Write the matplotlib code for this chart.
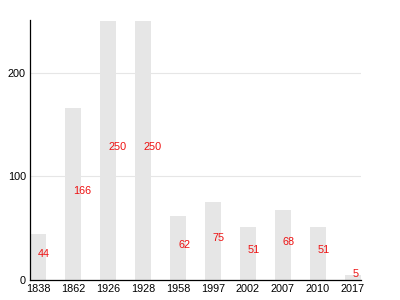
import matplotlib
matplotlib.use('Agg')
import matplotlib.pyplot as plt

plt.rcParams['font.family'] = ['Liberation Sans', 'DejaVu Sans']

# Data
years = ['1838', '1862', '1926', '1928', '1958', '1997', '2002', '2007', '2010', '2017']
values = [44, 166, 250, 250, 62, 75, 51, 68, 51, 5]

fig = plt.figure(figsize=(4, 3), dpi=100)
ax = fig.add_axes([0.075, 0.0667, 0.8275, 0.8667])

x = list(range(len(years)))
ax.bar(x, values, width=0.46, color='#e6e6e6', zorder=2)

# Value labels in red, halfway up each bar
for xi, v in zip(x, values):
    ax.text(xi, v / 2 + 3, str(v), color='#ee1111', fontsize=7.8,
            ha='left', va='center', zorder=3)

ax.set_xlim(-0.23, 9.23)
ax.set_ylim(0, 251)
ax.set_yticks([0, 100, 200])
ax.set_xticks(x)
ax.set_xticklabels(years)
ax.tick_params(axis='both', length=0, labelsize=7.8, pad=3)
ax.yaxis.grid(True, color='#e6e6e6', linewidth=0.8, zorder=0)

for side in ['top', 'right']:
    ax.spines[side].set_visible(False)
ax.spines['left'].set_linewidth(0.9)
ax.spines['bottom'].set_linewidth(0.9)

fig.savefig('out.png', dpi=100)
